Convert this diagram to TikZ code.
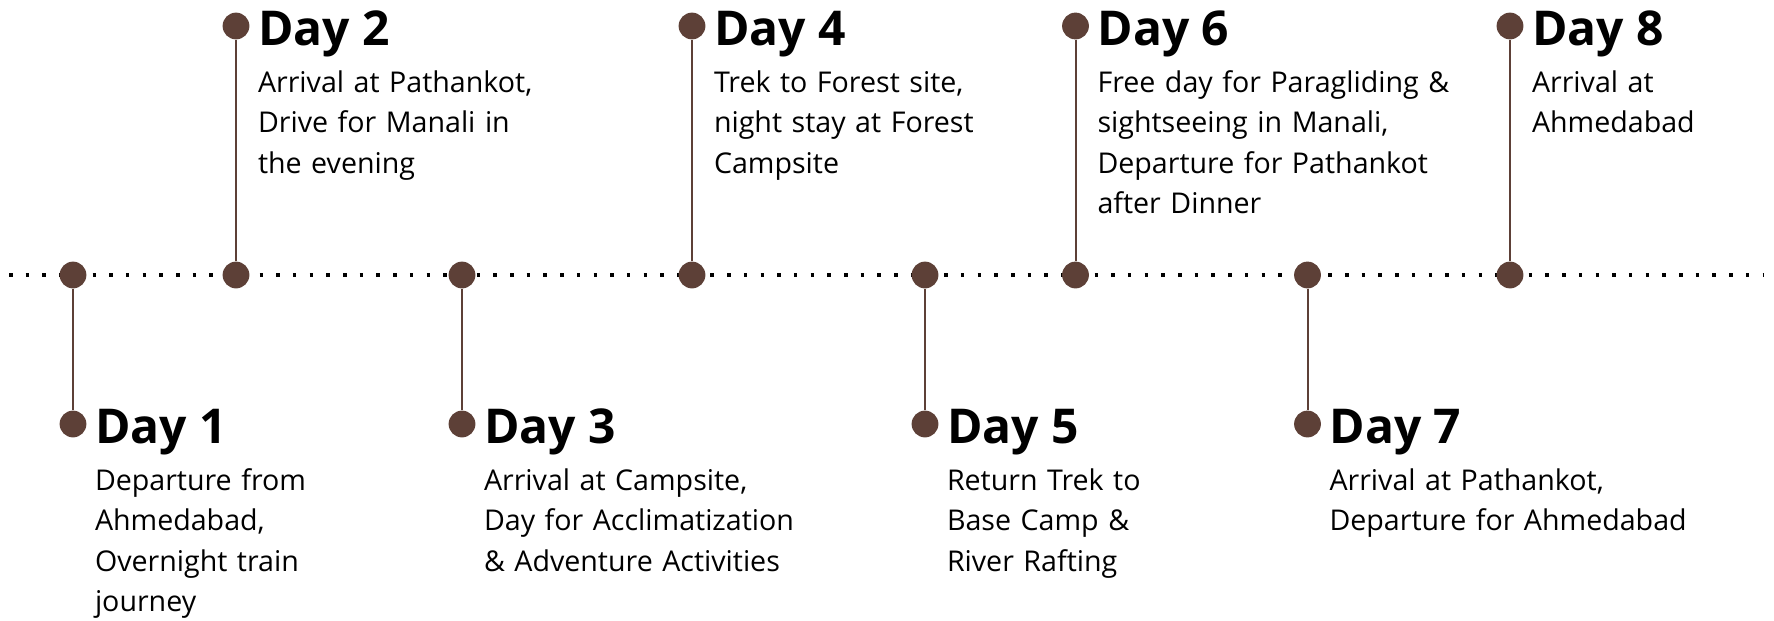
\documentclass[tikz,border=0pt]{standalone}
\usepackage{fontspec}
\setmainfont{Open Sans}
\definecolor{bean}{HTML}{5D4037}
\tikzset{
  dayspot/.style={circle,fill=bean,inner sep=0pt,minimum size=13.4pt},
  stem/.style={draw=bean,line width=1pt},
  dayname/.style={anchor=base west,inner sep=0pt,font=\fontsize{24}{28}\selectfont\bfseries},
  daytext/.style={anchor=base west,inner sep=0pt,text width=250pt,align=left,font=\fontsize{14.3}{20.2}\selectfont},
}
\begin{document}
\begin{tikzpicture}[x=0.5pt,y=-0.5pt]
\useasboundingbox (0,0) rectangle (1774,621);
% the dotted line
\coordinate (lstart) at (9,275);
\coordinate (lend) at (1764,275);
\draw[line width=1.75pt,dash pattern=on 1.75pt off 6.6pt] (lstart) -- (lend);
% the days
\foreach \n/\x/\y/\txt in {
  1/73/424/{Departure from\\Ahmedabad,\\Overnight train\\journey},
  2/236/26/{Arrival at Pathankot,\\Drive for Manali in\\the evening},
  3/462/424/{Arrival at Campsite,\\Day for Acclimatization\\\& Adventure Activities},
  4/692/26/{Trek to Forest site,\\night stay at Forest\\Campsite},
  5/925/424/{Return Trek to\\Base Camp \&\\River Rafting},
  6/1075.5/26/{Free day for Paragliding \&\\sightseeing in Manali,\\Departure for Pathankot\\after Dinner},
  7/1307.5/424/{Arrival at Pathankot,\\Departure for Ahmedabad},
  8/1510/26/{Arrival at\\Ahmedabad}} {
  \node[dayspot] (t\n) at (\x,275) {};
  \node[dayspot] (e\n) at (\x,\y) {};
  \draw[stem] (t\n) -- (e\n);
  \node[dayname] (d\n) at ([xshift=10.8pt,yshift=-9.75pt]e\n.center) {Day \n};
  \node[daytext] (b\n) at ([yshift=-23.5pt]d\n.base west) {\txt};
}
\end{tikzpicture}
\end{document}
